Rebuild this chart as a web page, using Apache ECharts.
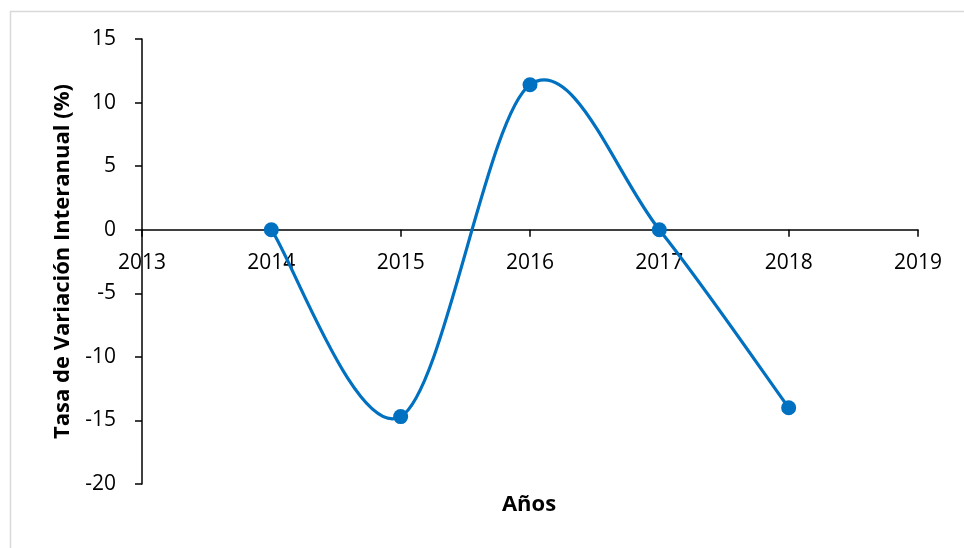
<!DOCTYPE html>
<html>
<head>
<meta charset="utf-8">
<script src="https://cdn.jsdelivr.net/npm/echarts@6/dist/echarts.min.js"></script>
<style>html,body{margin:0;padding:0;background:#fff;}#c{width:964px;height:548px;}</style>
</head>
<body>
<div id="c"></div>
<script>
const years = [2014, 2015, 2016, 2017, 2018];
const rates = [0, -14.7, 11.4, 0, -14.0];
const xTitle = 'Años';
const yTitle = 'Tasa de Variación Interanual (%)';
const xMin = 2013, xMax = 2019, xStep = 1;
const yMin = -20, yMax = 15, yStep = 5;

const W = 964, H = 548;
const grid = {left: 142, right: 46, top: 39, bottom: 64};
const plotH = H - grid.top - grid.bottom;
const font = '"Open Sans", "Noto Sans", sans-serif';
const blue = '#0070C0';

const chart = echarts.init(document.getElementById('c'));
const pts = years.map((y, i) => [y, rates[i]]);

function renderSeg(params, api) {
  const i = params.dataIndex;
  const n = pts.length;
  if (i >= n - 1) return null;
  const P = k => api.coord(pts[Math.max(0, Math.min(n - 1, k))]);
  const p0 = P(i - 1), p1 = P(i), p2 = P(i + 1), p3 = P(i + 2);
  const c1 = [p1[0] + (p2[0] - p0[0]) / 6, p1[1] + (p2[1] - p0[1]) / 6];
  const c2 = [p2[0] - (p3[0] - p1[0]) / 6, p2[1] - (p3[1] - p1[1]) / 6];
  return {
    type: 'bezierCurve',
    shape: {x1: p1[0], y1: p1[1], x2: p2[0], y2: p2[1], cpx1: c1[0], cpy1: c1[1], cpx2: c2[0], cpy2: c2[1]},
    style: {stroke: blue, lineWidth: 3.2, fill: null, lineCap: 'round'},
    silent: true
  };
}

chart.setOption({
  animation: false,
  backgroundColor: '#fff',
  graphic: [{
    type: 'rect', left: 8, top: 9,
    shape: {width: 1000, height: 600},
    style: {fill: 'none', stroke: '#d9d9d9', lineWidth: 1.5}, silent: true
  }, {
    type: 'text', x: 529, y: 505,
    style: {text: xTitle, fontFamily: font, fontWeight: 'bold', fontSize: 22, fill: '#000', align: 'center', verticalAlign: 'middle'}
  }],
  grid: grid,
  xAxis: {
    type: 'value', min: xMin, max: xMax, interval: xStep,
    offset: -plotH * (0 - yMin) / (yMax - yMin),
    axisLine: {onZero: false, lineStyle: {color: '#000', width: 1.5}},
    axisTick: {show: true, inside: false, length: 7, lineStyle: {color: '#000', width: 1.5}},
    axisLabel: {fontFamily: font, fontSize: 21, color: '#000', margin: 23, formatter: v => String(v)},
    splitLine: {show: false}
  },
  yAxis: {
    type: 'value', min: yMin, max: yMax, interval: yStep,
    name: yTitle, nameLocation: 'middle', nameGap: 68, nameRotate: 90,
    nameTextStyle: {fontFamily: font, fontWeight: 'bold', fontSize: 22, color: '#000'},
    axisLine: {lineStyle: {color: '#000', width: 1.5}},
    axisTick: {show: true, length: 7, lineStyle: {color: '#000', width: 1.5}},
    axisLabel: {fontFamily: font, fontSize: 21, color: '#000', margin: 26},
    splitLine: {show: false}
  },
  series: [{
    type: 'custom',
    data: pts,
    encode: {x: 0, y: 1},
    renderItem: renderSeg,
    z: 2
  }, {
    type: 'scatter',
    data: pts,
    symbol: 'circle', symbolSize: 15,
    itemStyle: {color: blue, opacity: 1},
    z: 3
  }]
});
</script>
</body>
</html>
